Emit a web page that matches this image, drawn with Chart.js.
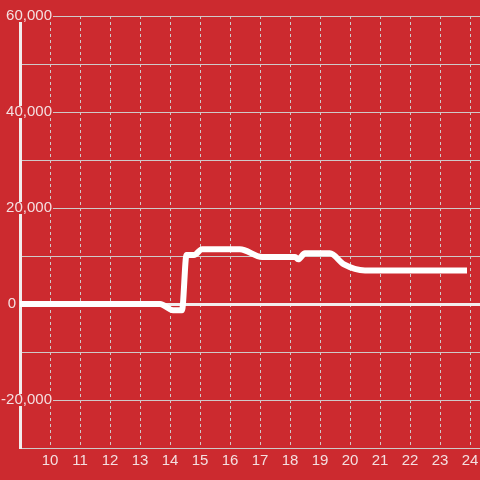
<!DOCTYPE html>
<html>
<head>
<meta charset="utf-8">
<script src="https://cdn.jsdelivr.net/npm/chart.js@4/dist/chart.umd.min.js"></script>
<style>
  html, body { margin: 0; padding: 0; background: #cc2a2f; }
  #wrap { width: 480px; height: 480px; }
</style>
</head>
<body>
<div id="wrap"><canvas id="c" width="480" height="480"></canvas></div>
<script>
// Data
const hours = [8.9, 13.67, 14.1, 14.4, 14.55, 14.8, 15.07, 16.33, 17.07, 18.17, 18.27, 18.5, 19.33, 19.8, 20.5, 23.9];
const values = [0, 0, -1300, -1300, 10200, 10200, 11400, 11400, 9800, 9800, 9300, 10550, 10550, 8250, 7000, 7000];
const xTicks = [10, 11, 12, 13, 14, 15, 16, 17, 18, 19, 20, 21, 22, 23, 24];
const yLabelTicks = [60000, 40000, 20000, -20000];

const BG = '#cc2a2f';
const LABEL = '#f4dfe0';
const GRID = '#cfc9c9';
const AXIS = '#f2eded';
const FONT = { family: 'Liberation Sans, Arial, sans-serif', size: 15 };

const points = hours.map((h, i) => ({ x: h, y: values[i] }));
const fmt = v => v.toLocaleString('en-US');

new Chart(document.getElementById('c'), {
  type: 'line',
  data: {
    datasets: [{
      data: points,
      borderColor: '#ffffff',
      borderWidth: 6,
      pointRadius: 0,
      cubicInterpolationMode: 'monotone',
      fill: false
    }]
  },
  options: {
    responsive: false,
    animation: false,
    layout: { padding: { top: 16, left: 0, right: 0, bottom: 0 } },
    plugins: { legend: { display: false }, tooltip: { enabled: false } },
    scales: {
      x: {
        type: 'linear',
        min: 9 - 1e-7,
        max: 9 + 460 / 30,
        afterBuildTicks: s => { s.ticks = xTicks.map(v => ({ value: v })); },
        afterFit: s => { s.height = 32; s.paddingLeft = 0; s.paddingRight = 0; },
        grid: { color: GRID, lineWidth: 1, drawTicks: false },
        border: { display: false, dash: [3, 3] },
        ticks: {
          color: LABEL,
          font: FONT,
          padding: 4,
          maxRotation: 0,
          autoSkip: false
        }
      },
      y: {
        weight: 1,
        min: -30000,
        max: 60000,
        afterFit: s => { s.width = 20; s.paddingTop = 0; s.paddingBottom = 0; },
        grid: {
          drawTicks: false,
          color: c => (c.tick && c.tick.value === 0) ? AXIS : GRID,
          lineWidth: c => (c.tick && c.tick.value === 0) ? 3 : 1
        },
        border: { display: true, color: AXIS, width: 3 },
        ticks: {
          stepSize: 10000,
          color: LABEL,
          font: FONT,
          mirror: true,
          crossAlign: 'far',
          padding: -18.9,
          autoSkip: false,
          showLabelBackdrop: true,
          backdropColor: c => yLabelTicks.includes(c.tick.value) ? BG : 'rgba(0,0,0,0)',
          backdropPadding: { top: -3, bottom: -3, left: 2, right: 1 },
          callback: v => yLabelTicks.includes(v) ? fmt(v) : ''
        }
      },
      y0: {
        weight: 2,
        position: 'left',
        min: -30000,
        max: 60000,
        afterFit: s => { s.width = 0; s.paddingTop = 0; s.paddingBottom = 0; },
        grid: { display: false, drawTicks: false },
        border: { display: false },
        ticks: {
          stepSize: 10000,
          color: LABEL,
          font: FONT,
          mirror: true,
          crossAlign: 'far',
          padding: 7.7,
          autoSkip: false,
          callback: v => v === 0 ? '0' : ''
        }
      }
    }
  }
});
</script>
</body>
</html>
